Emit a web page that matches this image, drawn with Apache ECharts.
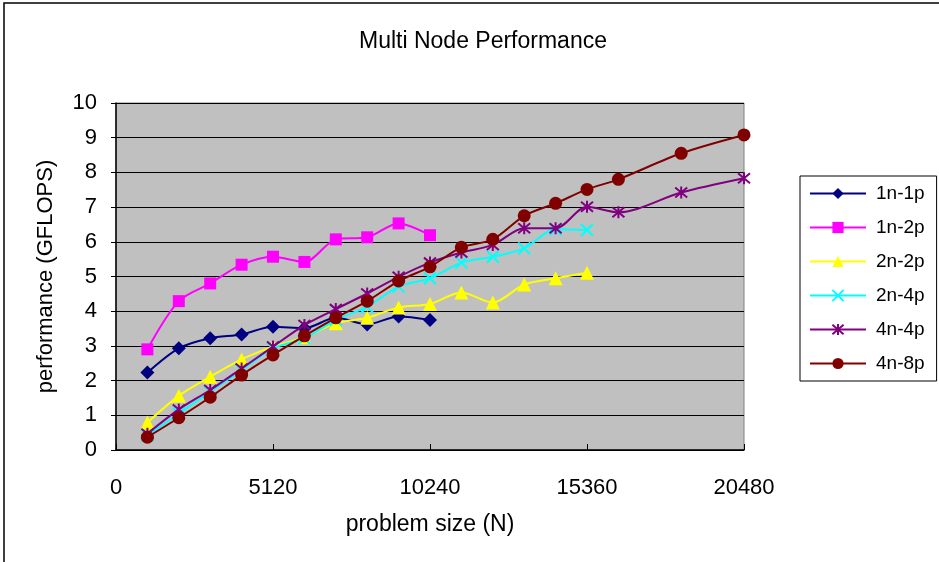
<!DOCTYPE html>
<html><head><meta charset="utf-8">
<script src="https://cdn.jsdelivr.net/npm/echarts@6/dist/echarts.min.js"></script>
<style>html,body{margin:0;padding:0;background:#fff}#c{width:939px;height:562px}</style>
</head><body><div id="c"></div>
<script>
var xs = [1024,2048,3072,4096,5120,6144,7168,8192,9216,10240,11264,12288,13312,14336,15360,16384,18432,20480];
var names = ['1n-1p','1n-2p','2n-2p','2n-4p','4n-4p','4n-8p'];
var v1n1p = [2.23,2.93,3.22,3.33,3.55,3.51,3.81,3.62,3.85,3.75];
var v1n2p = [2.90,4.29,4.80,5.34,5.57,5.42,6.07,6.13,6.53,6.19];
var v2n2p = [0.79,1.56,2.11,2.61,2.98,3.25,3.65,3.81,4.11,4.21,4.54,4.25,4.77,4.95,5.11];
var v2n4p = [0.42,1.05,1.68,2.30,2.93,3.22,3.75,4.13,4.71,4.95,5.40,5.57,5.81,6.36,6.34];
var v4n4p = [0.47,1.17,1.73,2.35,2.98,3.60,4.06,4.51,4.99,5.40,5.69,5.91,6.39,6.39,7.01,6.85,7.42,7.83];
var v4n8p = [0.37,0.93,1.52,2.16,2.74,3.29,3.81,4.29,4.87,5.28,5.84,6.07,6.75,7.11,7.51,7.80,8.55,9.08];
var xTicks = [0,5120,10240,15360,20480];
var yTicks = [0,1,2,3,4,5,6,7,8,9,10];

var values = [v1n1p,v1n2p,v2n2p,v2n4p,v4n4p,v4n8p];
var colors = ['#000080','#ff00ff','#ffff00','#00ffff','#800080','#800000'];
var symbols = ['diamond','rect','triangle','path://M0,0L10,10M10,0L0,10','path://M0,0L10,10M10,0L0,10M5,-1L5,11','circle'];
var sizes = [14,12,14,12,12,13];
var FONT = '"Liberation Sans",Arial,sans-serif';

var series = names.map(function(n,i){
  var stroked = (i===3||i===4);
  return {
    name:n, type:'line', smooth:0.3,
    data: values[i].map(function(v,j){return [xs[j], v];}),
    symbol: symbols[i], symbolSize: sizes[i],
    lineStyle:{color:colors[i], width:2},
    itemStyle: stroked ? {color:colors[i], borderColor:colors[i], borderWidth:2} : {color:colors[i]},
    z: 2+i
  };
});

var chart = echarts.init(document.getElementById('c'));
chart.setOption({
  animation:false,
  backgroundColor:'#fff',
  title:{text:'Multi Node Performance', left:478, top:25, textAlign:'center',
    textStyle:{fontFamily:FONT, fontSize:23, fontWeight:'normal', color:'#000'}},
  graphic:[{type:'rect', shape:{x:4,y:3,width:960,height:600}, style:{fill:'none', stroke:'#000', lineWidth:1.5}, silent:true}],
  legend:{orient:'vertical', left:800, top:176,
    padding:[8,12,8,9], itemGap:15, itemWidth:56, itemHeight:14,
    borderColor:'#000', borderWidth:1,
    textStyle:{fontFamily:FONT, fontSize:19, color:'#000', padding:[0,0,0,5]},
    data:names},
  grid:{left:116, right:195, top:103, bottom:112, show:true, backgroundColor:'#c0c0c0', borderColor:'#808080', borderWidth:1},
  xAxis:{type:'value', min:0, max:20480, interval:5120,
    name:'problem size (N)', nameLocation:'middle', nameGap:63,
    nameTextStyle:{fontFamily:FONT, fontSize:23, color:'#000'},
    axisLine:{show:true, lineStyle:{color:'#000', width:1.5}},
    axisTick:{show:true, inside:true, length:6, lineStyle:{color:'#000'}},
    axisLabel:{fontFamily:FONT, fontSize:22, color:'#000', margin:27,
      customValues: xTicks, formatter:function(v){return String(v);}},
    splitLine:{show:false}},
  yAxis:{type:'value', min:0, max:10, interval:1,
    name:'performance (GFLOPS)', nameLocation:'middle', nameGap:59,
    nameTextStyle:{fontFamily:FONT, fontSize:22, color:'#000'},
    axisLine:{show:true, lineStyle:{color:'#000', width:1.5}},
    axisTick:{show:true, length:5, lineStyle:{color:'#000'}},
    axisLabel:{fontFamily:FONT, fontSize:22, color:'#000', margin:19, customValues: yTicks},
    splitLine:{show:true, lineStyle:{color:'#000', width:1}}},
  series:series
});
</script></body></html>
